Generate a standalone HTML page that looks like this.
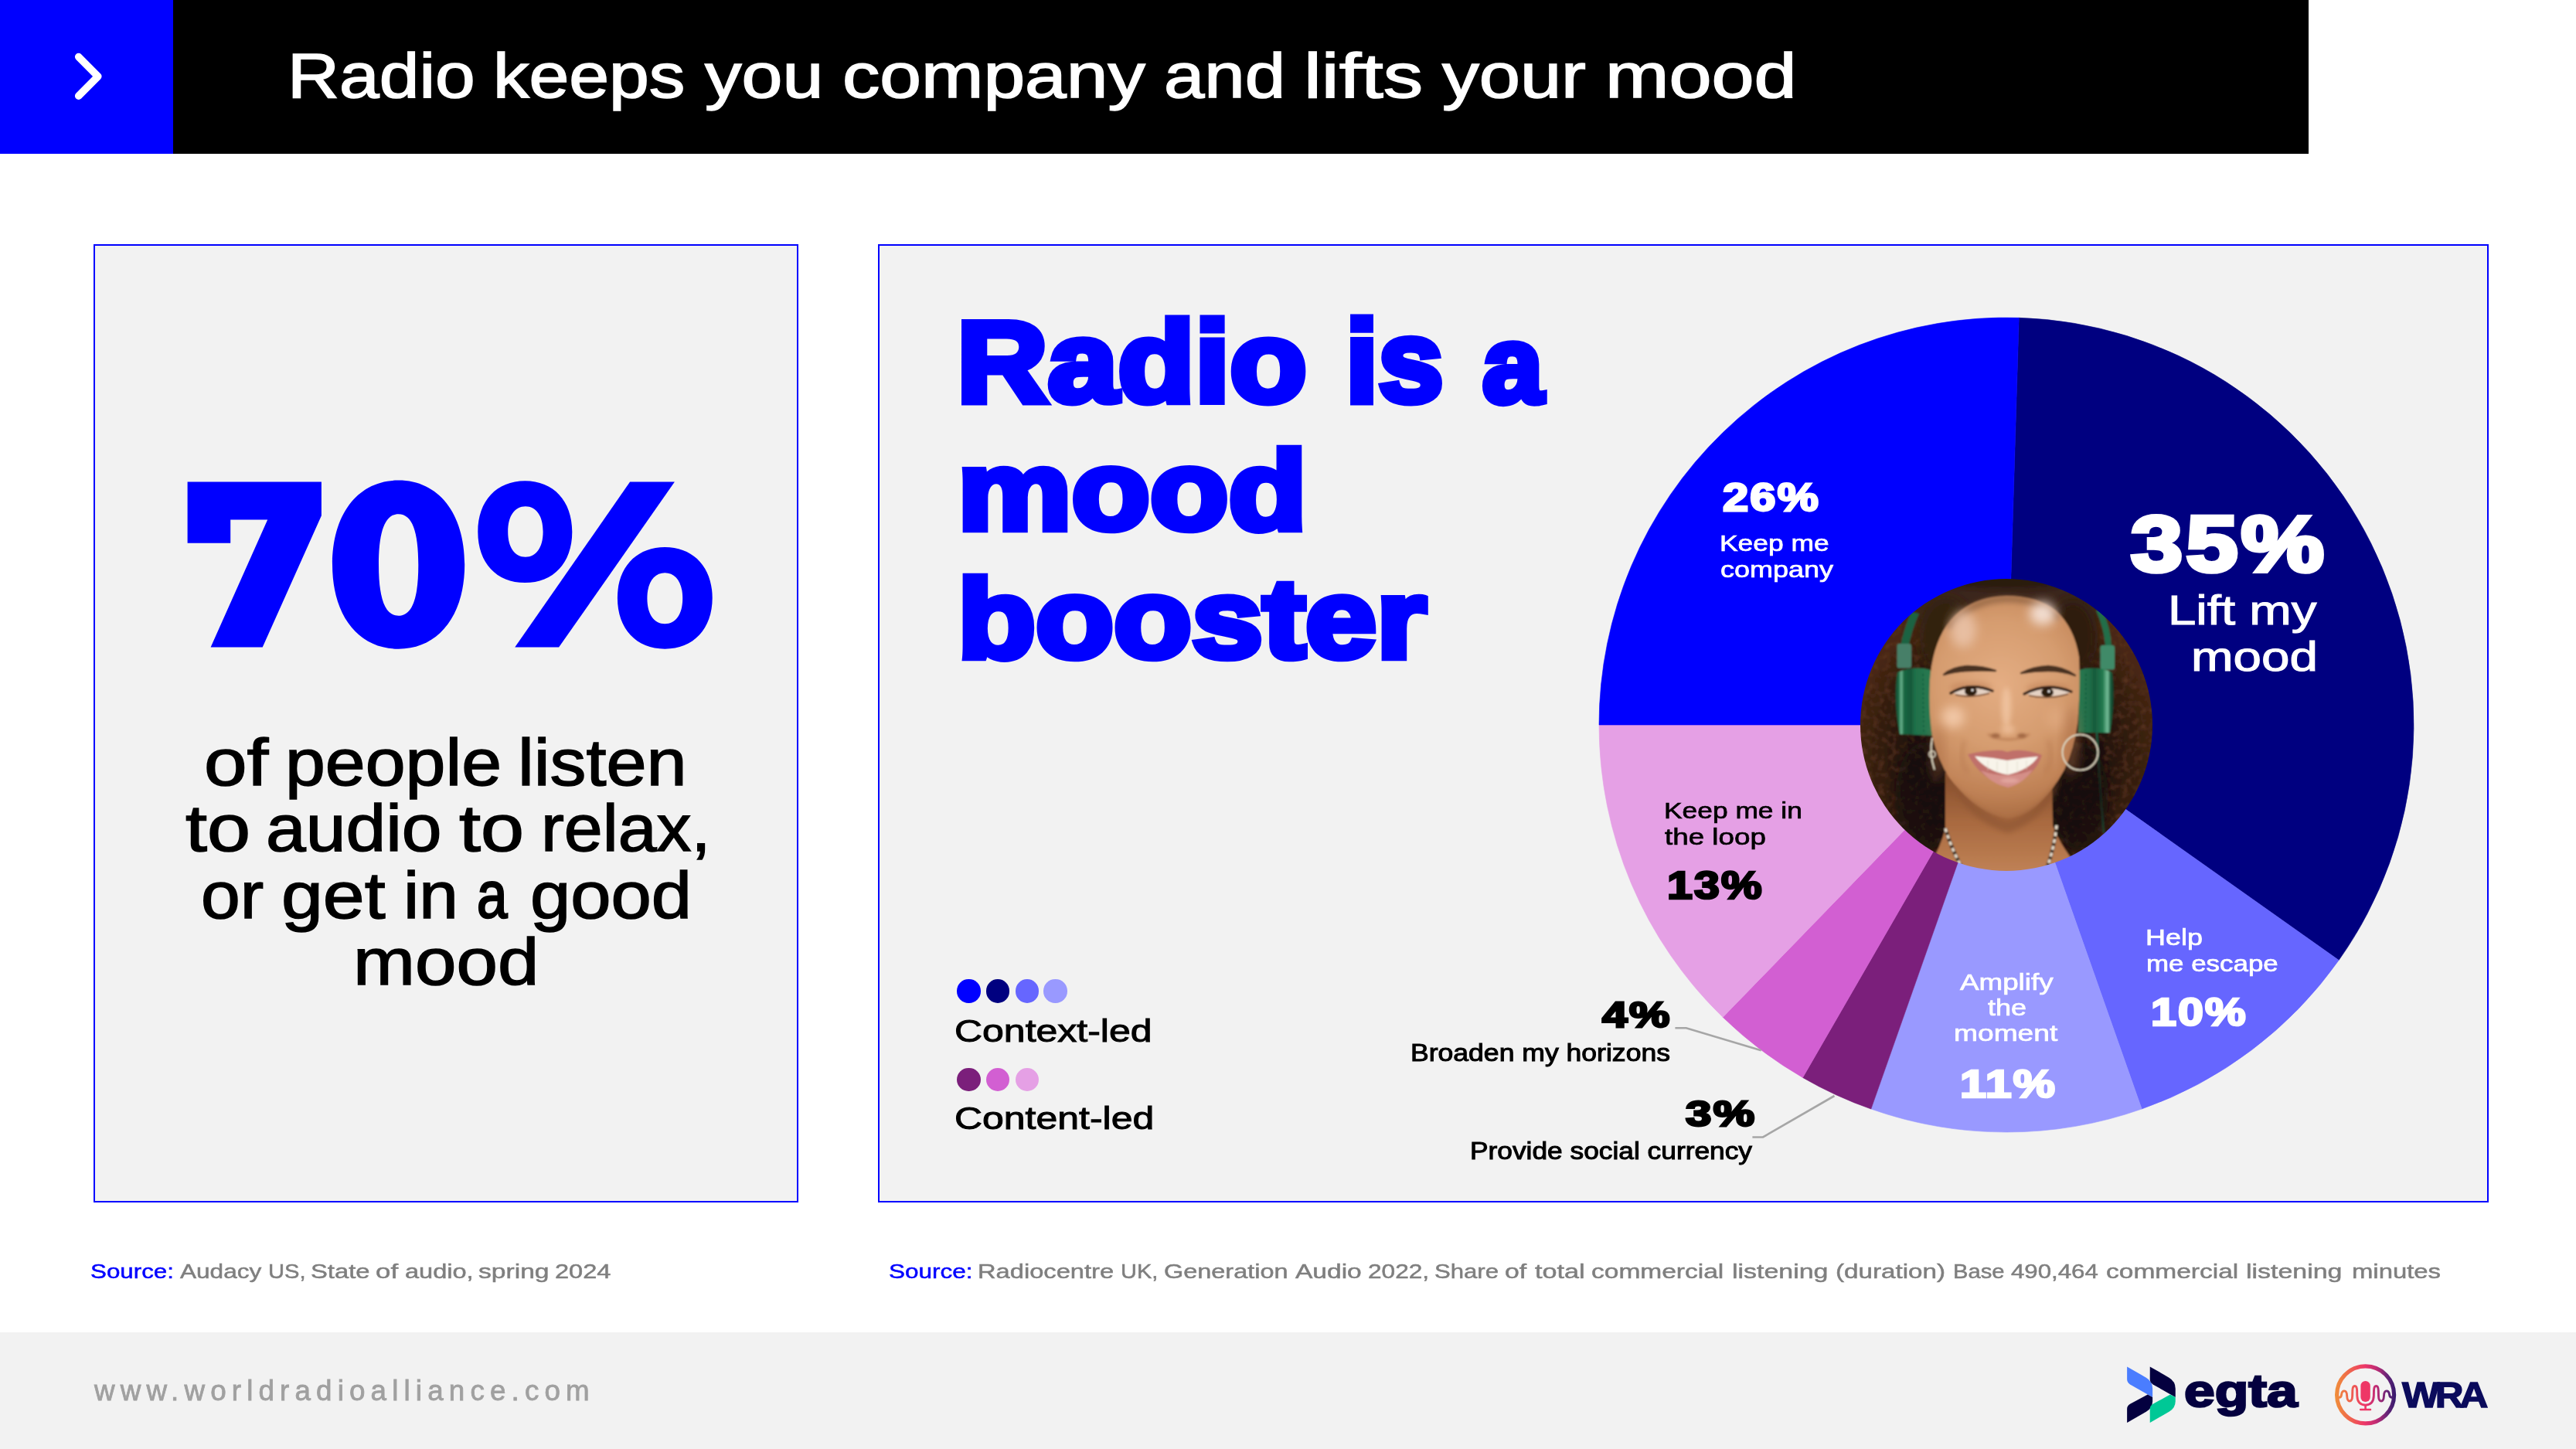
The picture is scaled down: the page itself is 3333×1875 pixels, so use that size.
<!DOCTYPE html>
<html lang="en"><head><meta charset="utf-8"><title>Radio keeps you company and lifts your mood</title>
<style>
html,body{margin:0;padding:0;background:#fff;}
body{width:3333px;height:1875px;position:relative;overflow:hidden;font-family:"Liberation Sans",sans-serif;}
.t{position:absolute;white-space:nowrap;line-height:1;transform-origin:0 0;font-family:"Liberation Sans",sans-serif;}
.abs{position:absolute;}
.panel{position:absolute;box-sizing:border-box;background:#f2f2f2;border:2px solid #0000ff;}
.dot{position:absolute;width:30.4px;height:30.4px;border-radius:50%;}
</style></head><body>
<div class="abs" style="left:0;top:0;width:2987px;height:198.5px;background:#000"></div>
<div class="abs" style="left:0;top:0;width:224px;height:198.5px;background:#0000ff"></div>
<svg class="abs" style="left:0;top:0" width="224" height="199" viewBox="0 0 224 199"><path d="M101.7 73.6 L126.8 98.8 L101.7 124.2" fill="none" stroke="#fff" stroke-width="9.6" stroke-linecap="round" stroke-linejoin="round"/></svg>
<div class="panel" style="left:121px;top:316px;width:912px;height:1240px"></div>
<div class="panel" style="left:1136px;top:316px;width:2083.5px;height:1240px"></div>
<div class="abs" style="left:0;top:1723.5px;width:3333px;height:152px;background:#f2f2f2"></div>
<svg class="abs" style="left:0;top:0" width="3333" height="1875" viewBox="0 0 3333 1875">
<path d="M2596.0,938.0 L2612.23,411.25 A527.0,527.0 0 0 1 3026.14,1242.49 Z" fill="#000080" stroke="#000080" stroke-width="0.6"/>
<path d="M2596.0,938.0 L3026.14,1242.49 A527.0,527.0 0 0 1 2771.15,1435.04 Z" fill="#6666ff" stroke="#6666ff" stroke-width="0.6"/>
<path d="M2596.0,938.0 L2771.15,1435.04 A527.0,527.0 0 0 1 2420.85,1435.04 Z" fill="#9999ff" stroke="#9999ff" stroke-width="0.6"/>
<path d="M2596.0,938.0 L2420.85,1435.04 A527.0,527.0 0 0 1 2332.50,1394.40 Z" fill="#7b1f7b" stroke="#7b1f7b" stroke-width="0.6"/>
<path d="M2596.0,938.0 L2332.50,1394.40 A527.0,527.0 0 0 1 2229.14,1316.34 Z" fill="#d25fd2" stroke="#d25fd2" stroke-width="0.6"/>
<path d="M2596.0,938.0 L2229.14,1316.34 A527.0,527.0 0 0 1 2069.00,938.00 Z" fill="#e5a0e5" stroke="#e5a0e5" stroke-width="0.6"/>
<path d="M2596.0,938.0 L2069.00,938.00 A527.0,527.0 0 0 1 2612.23,411.25 Z" fill="#0000ff" stroke="#0000ff" stroke-width="0.6"/>
<path d="M2167.4 1330.3 L2181.7 1330.3 L2278.7 1359.2" fill="none" stroke="#a6a6a6" stroke-width="2.6"/>
<path d="M2267.4 1471.5 L2281 1471.5 L2373.5 1418" fill="none" stroke="#a6a6a6" stroke-width="2.6"/>
<g fill="#0000ff">
<path d="M242.6 623.6 L415.9 623.6 L415.9 667.2 L339.7 837.6 L272.6 837.6 L346.2 672.4 L298.2 672.4 L298.2 702.8 L242.6 702.8 Z"/>
<path fill-rule="evenodd" d="M515.6 621.5 C567 621.5 601.2 664 601.2 730.6 C601.2 797 567 839.7 515.6 839.7 C464 839.7 430 797 430 730.6 C430 664 464 621.5 515.6 621.5 Z M515.6 665.2 C498 665.2 490 688 490 731 C490 774 498 796.8 515.6 796.8 C533.4 796.8 541.3 774 541.3 731 C541.3 688 533.4 665.2 515.6 665.2 Z"/>
<path d="M815.1 623.6 L872.9 623.6 L723.1 837.6 L666.2 837.6 Z"/>
<path fill-rule="evenodd" d="M679.3 622.3 C716 622.3 740.3 648 740.3 688.2 C740.3 728.5 716 754.1 679.3 754.1 C642.6 754.1 618.3 728.5 618.3 688.2 C618.3 648 642.6 622.3 679.3 622.3 Z M679.9 655.3 C666 655.3 657.2 667.5 657.2 688 C657.2 708.5 666 720.7 679.9 720.7 C693.8 720.7 702.6 708.5 702.6 688 C702.6 667.5 693.8 655.3 679.9 655.3 Z"/>
<path fill-rule="evenodd" d="M860.3 707.9 C897 707.9 921.7 733.5 921.7 773.8 C921.7 814 897 839.7 860.3 839.7 C823.6 839.7 798.9 814 798.9 773.8 C798.9 733.5 823.6 707.9 860.3 707.9 Z M860.3 741.2 C846.4 741.2 837.4 753.5 837.4 774.2 C837.4 794.9 846.4 807.2 860.3 807.2 C874.2 807.2 883.2 794.9 883.2 774.2 C883.2 753.5 874.2 741.2 860.3 741.2 Z"/>
</g>
<defs>
<clipPath id="pc"><circle cx="2596" cy="938" r="189"/></clipPath>
<radialGradient id="pbg" gradientUnits="userSpaceOnUse" cx="2596" cy="975" r="205"><stop offset="0" stop-color="#170d08"/><stop offset="0.62" stop-color="#21120b"/><stop offset="0.86" stop-color="#38200f"/><stop offset="1" stop-color="#4a2713"/></radialGradient>
<radialGradient id="pskin" gradientUnits="userSpaceOnUse" cx="2588" cy="885" r="178"><stop offset="0" stop-color="#e4ad83"/><stop offset="0.45" stop-color="#d69d70"/><stop offset="0.8" stop-color="#c08256"/><stop offset="1" stop-color="#a96c42"/></radialGradient>
<linearGradient id="pneck" gradientUnits="userSpaceOnUse" x1="0" y1="1010" x2="0" y2="1130"><stop offset="0" stop-color="#8a5230"/><stop offset="0.45" stop-color="#a96a40"/><stop offset="1" stop-color="#c08256"/></linearGradient>
<linearGradient id="pcupL" gradientUnits="userSpaceOnUse" x1="2450" y1="0" x2="2500" y2="0"><stop offset="0" stop-color="#10402b"/><stop offset="0.13" stop-color="#1a6642"/><stop offset="0.2" stop-color="#6db590"/><stop offset="0.27" stop-color="#1a6843"/><stop offset="0.45" stop-color="#16583a"/><stop offset="0.55" stop-color="#1f7049"/><stop offset="1" stop-color="#2a7a52"/></linearGradient>
<linearGradient id="pcupR" gradientUnits="userSpaceOnUse" x1="2690" y1="0" x2="2734" y2="0"><stop offset="0" stop-color="#2a7851"/><stop offset="0.35" stop-color="#1f6b46"/><stop offset="0.45" stop-color="#175a3b"/><stop offset="0.7" stop-color="#237a4f"/><stop offset="0.84" stop-color="#78bf9a"/><stop offset="0.92" stop-color="#1b6240"/><stop offset="1" stop-color="#103f2a"/></linearGradient>
<filter id="pblur" x="-5%" y="-5%" width="110%" height="110%"><feGaussianBlur stdDeviation="0.9"/></filter>
<filter id="pblur6" x="-40%" y="-40%" width="180%" height="180%"><feGaussianBlur stdDeviation="7"/></filter>
<filter id="pblur3" x="-40%" y="-40%" width="180%" height="180%"><feGaussianBlur stdDeviation="3"/></filter>
<filter id="pblur2" x="-40%" y="-40%" width="180%" height="180%"><feGaussianBlur stdDeviation="1.6"/></filter>
<filter id="pcurl" x="0" y="0" width="100%" height="100%" color-interpolation-filters="sRGB"><feTurbulence type="fractalNoise" baseFrequency="0.13" numOctaves="2" seed="7" result="n"/><feColorMatrix in="n" type="matrix" values="0 0 0 0 0.37  0 0 0 0 0.21  0 0 0 0 0.13  0 0 0 2.1 -0.98"/></filter>
</defs>
<g clip-path="url(#pc)">
<g filter="url(#pblur)">
<rect x="2400" y="740" width="400" height="400" fill="url(#pbg)"/>
<rect x="2400" y="740" width="400" height="400" filter="url(#pcurl)"/>
<!-- top hair lighter -->
<ellipse cx="2596" cy="790" rx="122" ry="50" fill="#3b271a" filter="url(#pblur6)"/>
<ellipse cx="2518" cy="822" rx="34" ry="48" fill="#33200f" filter="url(#pblur6)"/>
<ellipse cx="2682" cy="824" rx="32" ry="48" fill="#2e1c10" filter="url(#pblur6)"/>
<ellipse cx="2596" cy="752" rx="90" ry="10" fill="#2c1a10" filter="url(#pblur3)"/>
<!-- headphones bands -->
<path d="M2473 792 Q2463 814 2459 836 L2469 838 Q2474 814 2483 794 Z" fill="#1c6342"/>
<path d="M2712 790 Q2722 812 2724 836 L2732 836 Q2731 812 2720 789 Z" fill="#216e49"/>
<rect x="2454.500" y="833" width="18.500" height="31.500" rx="3" fill="#467f68"/>
<rect x="2717.500" y="835" width="18.500" height="31.500" rx="3" fill="#3f8a68"/>
<!-- cups -->
<path d="M2455 870 Q2449 905 2458 950 L2500 952 L2498 867 Q2478 861 2455 870 Z" fill="url(#pcupL)"/>
<path d="M2690 867 L2689 948 L2730 948 Q2738 905 2733 870 Q2712 861 2690 867 Z" fill="url(#pcupR)"/>
<path d="M2488 872 L2489 950" stroke="#155537" stroke-width="2" stroke-dasharray="3 3" fill="none" opacity="0.6"/>
<path d="M2699 872 L2698 946" stroke="#155537" stroke-width="2" stroke-dasharray="3 3" fill="none" opacity="0.6"/>
<!-- cable -->
<path d="M2713 948 Q2716 1010 2722 1078" fill="none" stroke="#1e5a40" stroke-width="2.600"/>
<ellipse cx="2492" cy="1030" rx="40" ry="70" fill="#140b07" opacity="0.75" filter="url(#pblur6)"/>
<ellipse cx="2690" cy="1030" rx="38" ry="70" fill="#140b07" opacity="0.75" filter="url(#pblur6)"/>
<!-- neck / chest -->
<path d="M2517 1000 L2517 1072 Q2510 1100 2488 1135 L2700 1135 Q2668 1100 2656 1068 L2655 1000 Z" fill="url(#pneck)"/>
<!-- face -->
<path d="M2596 771 Q2545 772 2518 810 Q2500 838 2497 880 Q2495 920 2500 952 Q2508 985 2522 1006 Q2540 1030 2560 1044 Q2580 1058 2598 1059 Q2618 1058 2636 1042 Q2656 1024 2671 996 Q2684 968 2688 936 Q2692 890 2690 850 Q2684 812 2660 790 Q2636 771 2596 771 Z" fill="url(#pskin)"/>
<!-- hairline shadow -->
<path d="M2520 812 Q2550 776 2596 775 Q2640 775 2664 800" fill="none" stroke="#7a5238" stroke-width="9" opacity="0.55" filter="url(#pblur3)"/>
<!-- highlights -->
<ellipse cx="2540" cy="814" rx="17" ry="24" fill="#f0cdb8" opacity="0.7" filter="url(#pblur6)"/>
<ellipse cx="2643" cy="794" rx="17" ry="15" fill="#f7e6dd" opacity="0.9" filter="url(#pblur6)"/>
<ellipse cx="2527" cy="928" rx="15" ry="14" fill="#f6cfb0" opacity="0.85" filter="url(#pblur6)"/>
<ellipse cx="2596" cy="915" rx="6" ry="26" fill="#f4caa8" opacity="0.75" filter="url(#pblur3)"/>
<ellipse cx="2598" cy="944" rx="9" ry="6" fill="#f2c4a0" opacity="0.7" filter="url(#pblur3)"/>
<ellipse cx="2662" cy="930" rx="14" ry="16" fill="#e6b088" opacity="0.5" filter="url(#pblur6)"/>
<!-- side shading -->
<ellipse cx="2680" cy="960" rx="10" ry="45" fill="#a86a42" opacity="0.5" filter="url(#pblur6)"/>
<ellipse cx="2507" cy="975" rx="8" ry="35" fill="#a86a42" opacity="0.45" filter="url(#pblur6)"/>
<!-- jaw shadow -->
<path d="M2522 1010 Q2560 1052 2598 1062 Q2636 1052 2668 1004 Q2650 1060 2598 1078 Q2545 1062 2522 1010 Z" fill="#8a5230" opacity="0.6" filter="url(#pblur3)"/>
<!-- brows -->
<path d="M2515 873 Q2526 863 2546 862 Q2566 862 2582 868 Q2564 867 2546 868 Q2528 869 2515 873 Z" fill="#4a3224" stroke="#4a3224" stroke-width="2.5" stroke-linejoin="round"/>
<path d="M2615 871 Q2630 863 2650 862 Q2670 863 2685 874 Q2668 868 2650 868 Q2632 868 2615 871 Z" fill="#4a3224" stroke="#4a3224" stroke-width="2.5" stroke-linejoin="round"/>
<!-- eye sockets -->
<ellipse cx="2550" cy="890" rx="27" ry="8" fill="#b9794f" opacity="0.45" filter="url(#pblur3)"/>
<ellipse cx="2650" cy="891" rx="28" ry="8" fill="#b9794f" opacity="0.45" filter="url(#pblur3)"/>
<!-- eyes -->
<path d="M2526 897 Q2548 885 2577 895 Q2550 903 2526 897 Z" fill="#e4d2c4"/>
<path d="M2621 898 Q2648 885 2679 896 Q2650 905 2621 898 Z" fill="#e4d2c4"/>
<ellipse cx="2550" cy="894.500" rx="8" ry="6" fill="#2c1a10"/>
<ellipse cx="2649" cy="896" rx="8" ry="6" fill="#2c1a10"/>
<path d="M2524 897 Q2548 882 2578 894" fill="none" stroke="#2f1c12" stroke-width="3.4" stroke-linecap="round"/>
<path d="M2619 898 Q2648 882 2680 895" fill="none" stroke="#2f1c12" stroke-width="3.4" stroke-linecap="round"/>
<path d="M2530 899 Q2550 904 2574 897" fill="none" stroke="#6a4630" stroke-width="1.6"/>
<path d="M2625 900 Q2650 906 2676 898" fill="none" stroke="#6a4630" stroke-width="1.6"/>
<circle cx="2552" cy="893" r="1.500" fill="#fff"/><circle cx="2651" cy="894.500" r="1.500" fill="#fff"/>
<!-- nose -->
<ellipse cx="2582" cy="952" rx="6" ry="3" fill="#8c5232" opacity="0.75" filter="url(#pblur2)"/>
<ellipse cx="2616" cy="952" rx="6" ry="3" fill="#8c5232" opacity="0.75" filter="url(#pblur2)"/>
<path d="M2572 950 Q2598 964 2626 950" fill="none" stroke="#a86a44" stroke-width="3" opacity="0.55" filter="url(#pblur2)"/>
<!-- smile folds -->
<path d="M2542 958 Q2533 982 2546 1000" fill="none" stroke="#ad6e46" stroke-width="3" opacity="0.6" filter="url(#pblur3)"/>
<path d="M2650 958 Q2658 982 2646 1000" fill="none" stroke="#ad6e46" stroke-width="3" opacity="0.6" filter="url(#pblur3)"/>
<!-- mouth -->
<path d="M2546 976 Q2562 972 2580 971 Q2590 970 2597 973 Q2606 970 2616 971 Q2630 972 2642 977 Q2634 1004 2598 1019 Q2562 1008 2546 976 Z" fill="#c0706a"/>
<path d="M2555 978.500 Q2575 980 2597 984 Q2620 980 2637 979 Q2626 996 2598 1002.500 Q2570 998 2555 978.500 Z" fill="#f8f4ea"/>
<path d="M2572 984 L2572 997 M2584 985 L2584 1000 M2597 985 L2597 1002 M2610 985 L2610 1000 M2622 984 L2622 996" stroke="#d9d2c4" stroke-width="1" opacity="0.7"/>
<path d="M2563 997 Q2598 1010 2630 996 Q2618 1014 2598 1019 Q2576 1014 2563 997 Z" fill="#d48f88"/>
<ellipse cx="2600" cy="1010" rx="12" ry="3" fill="#e8b0a8" opacity="0.7" filter="url(#pblur2)"/>
<!-- earrings -->
<circle cx="2691.500" cy="973.500" r="23" fill="none" stroke="#dcd5c0" stroke-width="2"/>
<path d="M2500 955 Q2496 975 2503 996" fill="none" stroke="#dcd5c0" stroke-width="2"/>
<circle cx="2500" cy="976" r="4" fill="none" stroke="#dcd5c0" stroke-width="1.600"/>
<!-- necklace -->
<path d="M2517 1072 Q2524 1096 2537 1120" fill="none" stroke="#3b2a1c" stroke-width="4.500"/>
<path d="M2517 1072 Q2524 1096 2537 1120" fill="none" stroke="#e6dccb" stroke-width="3.500" stroke-dasharray="5 4"/>
<path d="M2661 1068 Q2658 1096 2649 1122" fill="none" stroke="#3b2a1c" stroke-width="4.500"/>
<path d="M2661 1068 Q2658 1096 2649 1122" fill="none" stroke="#e6dccb" stroke-width="3.500" stroke-dasharray="5 4"/>
</g>
</g>

<defs>
<linearGradient id="wg" gradientUnits="userSpaceOnUse" x1="3021" y1="0" x2="3100" y2="0"><stop offset="0" stop-color="#f0903a"/><stop offset="0.22" stop-color="#ef6a4a"/><stop offset="0.48" stop-color="#ee3868"/><stop offset="0.68" stop-color="#c02c74"/><stop offset="0.85" stop-color="#6a2478"/><stop offset="1" stop-color="#33186c"/></linearGradient>
</defs>
<g transform="translate(2740,1755) scale(0.09705)">
<path d="M125,138 L380,285 Q465,335 465,430 L465,545 L165,375 Q125,350 125,310 Z" fill="#4a7dff"/>
<path d="M125,885 L125,700 Q125,660 165,637 L400,510 L465,545 L465,600 Q465,690 380,740 Z" fill="#04003f"/>
<path d="M430,138 L685,285 Q770,335 770,430 L770,545 L470,375 Q430,350 430,310 Z" fill="#04003f"/>
<path d="M430,885 L430,700 Q430,660 470,637 L700,510 L770,545 L770,600 Q770,690 685,740 Z" fill="#00c896"/>
</g>
<circle cx="3060.600" cy="1804.900" r="37" fill="none" stroke="url(#wg)" stroke-width="5.200"/>
<path d="M3026.65,1808.38 Q3029.22,1808.38 3029.64,1804.11 Q3030.07,1799.84 3033.23,1799.84 Q3036.48,1799.84 3036.65,1806.24 Q3036.99,1813.07 3040.06,1813.07 Q3043.48,1813.07 3043.65,1806.24 L3043.82,1799.41 Q3043.99,1793.43 3046.72,1793.43 Q3049.46,1793.43 3049.63,1799.41 L3049.80,1806.24 Q3050.14,1817.77 3060.56,1818.20 Q3070.98,1817.77 3071.32,1806.24 L3071.49,1799.41 Q3071.66,1793.43 3074.39,1793.43 Q3077.13,1793.43 3077.30,1799.41 L3077.47,1806.24 Q3077.64,1813.07 3081.06,1813.07 Q3084.13,1813.07 3084.47,1806.24 Q3084.64,1799.84 3087.89,1799.84 Q3091.05,1799.84 3091.48,1804.11 Q3091.90,1808.38 3094.98,1808.38" fill="none" stroke="url(#wg)" stroke-width="2.9" stroke-linecap="round" stroke-linejoin="round"/>
<g fill="#ee3766" stroke="none">
<rect x="3054.400" y="1787" width="12.400" height="27" rx="6.200"/>
<rect x="3059.300" y="1817" width="2.600" height="7.500"/>
<rect x="3053" y="1822.700" width="15.200" height="2.600" rx="1"/>
</g>

</svg>
<div class="dot" style="left:1238.2px;top:1267.3px;background:#0000ff"></div>
<div class="dot" style="left:1275.6px;top:1267.3px;background:#000080"></div>
<div class="dot" style="left:1313.5px;top:1267.3px;background:#6666ff"></div>
<div class="dot" style="left:1350.4px;top:1267.3px;background:#9999ff"></div>
<div class="dot" style="left:1238.2px;top:1381.9px;background:#7b1f7b"></div>
<div class="dot" style="left:1275.6px;top:1381.9px;background:#d25fd2"></div>
<div class="dot" style="left:1313.5px;top:1381.9px;background:#e5a0e5"></div>
<div class="t" style="left:372.21px;top:57.56px;font-size:81px;font-weight:400;color:#fff;-webkit-text-stroke:1.6px currentColor;transform:scaleX(1.1469);">Radio</div>
<div class="t" style="left:638.34px;top:57.56px;font-size:81px;font-weight:400;color:#fff;-webkit-text-stroke:1.6px currentColor;transform:scaleX(1.1493);">keeps</div>
<div class="t" style="left:911.67px;top:57.56px;font-size:81px;font-weight:400;color:#fff;-webkit-text-stroke:1.6px currentColor;transform:scaleX(1.1741);">you</div>
<div class="t" style="left:1089.92px;top:57.56px;font-size:81px;font-weight:400;color:#fff;-webkit-text-stroke:1.6px currentColor;transform:scaleX(1.1920);">company</div>
<div class="t" style="left:1505.59px;top:57.56px;font-size:81px;font-weight:400;color:#fff;-webkit-text-stroke:1.6px currentColor;transform:scaleX(1.1626);">and</div>
<div class="t" style="left:1687.48px;top:57.56px;font-size:81px;font-weight:400;color:#fff;-webkit-text-stroke:1.6px currentColor;transform:scaleX(1.2680);">lifts</div>
<div class="t" style="left:1866.38px;top:57.56px;font-size:81px;font-weight:400;color:#fff;-webkit-text-stroke:1.6px currentColor;transform:scaleX(1.1797);">your</div>
<div class="t" style="left:2077.10px;top:57.56px;font-size:81px;font-weight:400;color:#fff;-webkit-text-stroke:1.6px currentColor;transform:scaleX(1.2222);">mood</div>
<div class="t" style="left:227.44px;top:577.63px;font-size:313px;font-weight:700;color:transparent;transform:scale(1.1229,0.9752);">70%</div>
<div class="t" style="left:264.25px;top:944.75px;font-size:84.5px;font-weight:400;color:#000;-webkit-text-stroke:1.5px currentColor;transform:scaleX(1.1825);">of</div>
<div class="t" style="left:369.03px;top:944.75px;font-size:84.5px;font-weight:400;color:#000;-webkit-text-stroke:1.5px currentColor;transform:scaleX(1.1038);">people</div>
<div class="t" style="left:670.16px;top:944.75px;font-size:84.5px;font-weight:400;color:#000;-webkit-text-stroke:1.5px currentColor;transform:scaleX(1.1083);">listen</div>
<div class="t" style="left:239.70px;top:1030.35px;font-size:84.5px;font-weight:400;color:#000;-webkit-text-stroke:1.5px currentColor;transform:scaleX(1.1926);">to</div>
<div class="t" style="left:343.77px;top:1030.35px;font-size:84.5px;font-weight:400;color:#000;-webkit-text-stroke:1.5px currentColor;transform:scaleX(1.1006);">audio</div>
<div class="t" style="left:594.40px;top:1030.35px;font-size:84.5px;font-weight:400;color:#000;-webkit-text-stroke:1.5px currentColor;transform:scaleX(1.1911);">to</div>
<div class="t" style="left:699.96px;top:1030.35px;font-size:84.5px;font-weight:400;color:#000;-webkit-text-stroke:1.5px currentColor;transform:scaleX(1.0615);">relax,</div>
<div class="t" style="left:259.63px;top:1116.65px;font-size:84.5px;font-weight:400;color:#000;-webkit-text-stroke:1.5px currentColor;transform:scaleX(1.0787);">or</div>
<div class="t" style="left:364.05px;top:1116.65px;font-size:84.5px;font-weight:400;color:#000;-webkit-text-stroke:1.5px currentColor;transform:scaleX(1.1461);">get</div>
<div class="t" style="left:522.48px;top:1116.65px;font-size:84.5px;font-weight:400;color:#000;-webkit-text-stroke:1.5px currentColor;transform:scaleX(1.0773);">in</div>
<div class="t" style="left:616.71px;top:1116.10px;font-size:84.5px;font-weight:400;color:#000;-webkit-text-stroke:2.6px currentColor;transform:scaleX(0.8391);">a</div>
<div class="t" style="left:685.64px;top:1116.65px;font-size:84.5px;font-weight:400;color:#000;-webkit-text-stroke:1.5px currentColor;transform:scaleX(1.1126);">good</div>
<div class="t" style="left:456.90px;top:1203.05px;font-size:84.5px;font-weight:400;color:#000;-webkit-text-stroke:1.5px currentColor;transform:scaleX(1.1371);">mood</div>
<div class="t" style="left:1238.22px;top:395.45px;font-size:150px;font-weight:700;color:#0000ff;-webkit-text-stroke:9px currentColor;transform:scale(1.0865,0.9853);">Radio</div>
<div class="t" style="left:1741.23px;top:393.22px;font-size:150px;font-weight:700;color:#0000ff;-webkit-text-stroke:9px currentColor;transform:scale(1.0119,1.0021);">is</div>
<div class="t" style="left:1918.14px;top:401.59px;font-size:150px;font-weight:700;color:#0000ff;-webkit-text-stroke:9px currentColor;transform:scale(0.9423,0.9392);">a</div>
<div class="t" style="left:1238.67px;top:563.37px;font-size:150px;font-weight:700;color:#0000ff;-webkit-text-stroke:9px currentColor;transform:scale(1.1068,0.9618);">mood</div>
<div class="t" style="left:1238.69px;top:728.74px;font-size:150px;font-weight:700;color:#0000ff;-webkit-text-stroke:9px currentColor;transform:scale(1.1024,0.9644);">booster</div>
<div class="t" style="left:2228.56px;top:618.80px;font-size:55px;font-weight:700;color:#fff;-webkit-text-stroke:3px currentColor;letter-spacing:2px;transform:scale(1.0848,0.9167);">26%</div>
<div class="t" style="left:2224.70px;top:687.52px;font-size:29.5px;font-weight:400;color:#fff;-webkit-text-stroke:0.7px currentColor;transform:scaleX(1.1991);">Keep me</div>
<div class="t" style="left:2225.58px;top:721.92px;font-size:29.5px;font-weight:400;color:#fff;-webkit-text-stroke:0.7px currentColor;transform:scaleX(1.2202);">company</div>
<div class="t" style="left:2757.32px;top:653.42px;font-size:110px;font-weight:700;color:#fff;-webkit-text-stroke:6px currentColor;letter-spacing:4px;transform:scale(1.0952,0.9286);">35%</div>
<div class="t" style="left:2805.42px;top:762.94px;font-size:53.5px;font-weight:400;color:#fff;-webkit-text-stroke:1.1px currentColor;transform:scaleX(1.2214);">Lift my</div>
<div class="t" style="left:2835.12px;top:823.24px;font-size:53.5px;font-weight:400;color:#fff;-webkit-text-stroke:1.1px currentColor;transform:scaleX(1.2250);">mood</div>
<div class="t" style="left:2152.50px;top:1034.42px;font-size:29.5px;font-weight:400;color:#000;-webkit-text-stroke:0.7px currentColor;transform:scaleX(1.1986);">Keep me in</div>
<div class="t" style="left:2154.20px;top:1068.12px;font-size:29.5px;font-weight:400;color:#000;-webkit-text-stroke:0.7px currentColor;transform:scaleX(1.2462);">the loop</div>
<div class="t" style="left:2156.65px;top:1121.79px;font-size:55px;font-weight:700;color:#000;-webkit-text-stroke:3px currentColor;letter-spacing:2px;transform:scale(1.0753,0.9018);">13%</div>
<div class="t" style="left:2776.27px;top:1198.12px;font-size:29.5px;font-weight:400;color:#fff;-webkit-text-stroke:0.7px currentColor;transform:scaleX(1.2173);">Help</div>
<div class="t" style="left:2777.43px;top:1231.82px;font-size:29.5px;font-weight:400;color:#fff;-webkit-text-stroke:0.7px currentColor;transform:scaleX(1.1831);">me escape</div>
<div class="t" style="left:2782.65px;top:1284.51px;font-size:55px;font-weight:700;color:#fff;-webkit-text-stroke:3px currentColor;letter-spacing:2px;transform:scale(1.0753,0.9143);">10%</div>
<div class="t" style="left:2536.12px;top:1255.62px;font-size:29.5px;font-weight:400;color:#fff;-webkit-text-stroke:0.7px currentColor;transform:scaleX(1.2462);">Amplify</div>
<div class="t" style="left:2571.80px;top:1289.32px;font-size:29.5px;font-weight:400;color:#fff;-webkit-text-stroke:0.7px currentColor;transform:scaleX(1.2225);">the</div>
<div class="t" style="left:2528.21px;top:1322.22px;font-size:29.5px;font-weight:400;color:#fff;-webkit-text-stroke:0.7px currentColor;transform:scaleX(1.2599);">moment</div>
<div class="t" style="left:2535.69px;top:1378.26px;font-size:55px;font-weight:700;color:#fff;-webkit-text-stroke:3px currentColor;letter-spacing:2px;transform:scale(1.1073,0.9030);">11%</div>
<div class="t" style="left:2072.68px;top:1289.52px;font-size:50px;font-weight:700;color:#000;-webkit-text-stroke:3px currentColor;letter-spacing:2px;transform:scale(1.1761,0.9176);">4%</div>
<div class="t" style="left:1825.11px;top:1347.21px;font-size:31px;font-weight:400;color:#000;-webkit-text-stroke:1.0px currentColor;transform:scaleX(1.1469);">Broaden my horizons</div>
<div class="t" style="left:2180.80px;top:1417.63px;font-size:50px;font-weight:700;color:#000;-webkit-text-stroke:3px currentColor;letter-spacing:2px;transform:scale(1.2000,0.9221);">3%</div>
<div class="t" style="left:1902.32px;top:1473.71px;font-size:31px;font-weight:400;color:#000;-webkit-text-stroke:1.0px currentColor;transform:scaleX(1.1389);">Provide social currency</div>
<div class="t" style="left:1234.99px;top:1312.73px;font-size:41.5px;font-weight:400;color:#000;-webkit-text-stroke:1.0px currentColor;transform:scaleX(1.2038);">Context-led</div>
<div class="t" style="left:1235.00px;top:1426.33px;font-size:41.5px;font-weight:400;color:#000;-webkit-text-stroke:1.0px currentColor;transform:scaleX(1.2033);">Content-led</div>
<div class="t" style="left:117.32px;top:1632.16px;font-size:26.5px;font-weight:400;color:#0000ff;-webkit-text-stroke:0.5px currentColor;transform:scaleX(1.1819);">Source:</div>
<div class="t" style="left:232.60px;top:1632.16px;font-size:26.5px;font-weight:400;color:#7f7f7f;-webkit-text-stroke:0.5px currentColor;transform:scaleX(1.1910);">Audacy</div>
<div class="t" style="left:346.67px;top:1632.16px;font-size:26.5px;font-weight:400;color:#7f7f7f;-webkit-text-stroke:0.5px currentColor;transform:scaleX(1.1006);">US,</div>
<div class="t" style="left:401.76px;top:1632.16px;font-size:26.5px;font-weight:400;color:#7f7f7f;-webkit-text-stroke:0.5px currentColor;transform:scaleX(1.2367);">State</div>
<div class="t" style="left:486.21px;top:1632.16px;font-size:26.5px;font-weight:400;color:#7f7f7f;-webkit-text-stroke:0.5px currentColor;transform:scaleX(1.3149);">of</div>
<div class="t" style="left:523.58px;top:1632.16px;font-size:26.5px;font-weight:400;color:#7f7f7f;-webkit-text-stroke:0.5px currentColor;transform:scaleX(1.2274);">audio,</div>
<div class="t" style="left:618.97px;top:1632.16px;font-size:26.5px;font-weight:400;color:#7f7f7f;-webkit-text-stroke:0.5px currentColor;transform:scaleX(1.2683);">spring</div>
<div class="t" style="left:717.77px;top:1632.16px;font-size:26.5px;font-weight:400;color:#7f7f7f;-webkit-text-stroke:0.5px currentColor;transform:scaleX(1.2296);">2024</div>
<div class="t" style="left:1150.21px;top:1632.16px;font-size:26.5px;font-weight:400;color:#0000ff;-webkit-text-stroke:0.5px currentColor;transform:scaleX(1.1887);">Source:</div>
<div class="t" style="left:1264.74px;top:1632.16px;font-size:26.5px;font-weight:400;color:#7f7f7f;-webkit-text-stroke:0.5px currentColor;transform:scaleX(1.2321);">Radiocentre</div>
<div class="t" style="left:1450.09px;top:1632.16px;font-size:26.5px;font-weight:400;color:#7f7f7f;-webkit-text-stroke:0.5px currentColor;transform:scaleX(1.0932);">UK,</div>
<div class="t" style="left:1506.18px;top:1632.16px;font-size:26.5px;font-weight:400;color:#7f7f7f;-webkit-text-stroke:0.5px currentColor;transform:scaleX(1.2241);">Generation</div>
<div class="t" style="left:1675.62px;top:1632.16px;font-size:26.5px;font-weight:400;color:#7f7f7f;-webkit-text-stroke:0.5px currentColor;transform:scaleX(1.2654);">Audio</div>
<div class="t" style="left:1769.71px;top:1632.16px;font-size:26.5px;font-weight:400;color:#7f7f7f;-webkit-text-stroke:0.5px currentColor;transform:scaleX(1.1937);">2022,</div>
<div class="t" style="left:1856.13px;top:1632.16px;font-size:26.5px;font-weight:400;color:#7f7f7f;-webkit-text-stroke:0.5px currentColor;transform:scaleX(1.1738);">Share</div>
<div class="t" style="left:1947.34px;top:1632.16px;font-size:26.5px;font-weight:400;color:#7f7f7f;-webkit-text-stroke:0.5px currentColor;transform:scaleX(1.2736);">of</div>
<div class="t" style="left:1985.50px;top:1632.16px;font-size:26.5px;font-weight:400;color:#7f7f7f;-webkit-text-stroke:0.5px currentColor;transform:scaleX(1.2887);">total</div>
<div class="t" style="left:2059.35px;top:1632.16px;font-size:26.5px;font-weight:400;color:#7f7f7f;-webkit-text-stroke:0.5px currentColor;transform:scaleX(1.2645);">commercial</div>
<div class="t" style="left:2241.28px;top:1632.16px;font-size:26.5px;font-weight:400;color:#7f7f7f;-webkit-text-stroke:0.5px currentColor;transform:scaleX(1.2796);">listening</div>
<div class="t" style="left:2375.24px;top:1632.16px;font-size:26.5px;font-weight:400;color:#7f7f7f;-webkit-text-stroke:0.5px currentColor;transform:scaleX(1.2515);">(duration)</div>
<div class="t" style="left:2526.80px;top:1632.16px;font-size:26.5px;font-weight:400;color:#7f7f7f;-webkit-text-stroke:0.5px currentColor;transform:scaleX(1.1009);">Base</div>
<div class="t" style="left:2602.41px;top:1632.16px;font-size:26.5px;font-weight:400;color:#7f7f7f;-webkit-text-stroke:0.5px currentColor;transform:scaleX(1.1779);">490,464</div>
<div class="t" style="left:2724.55px;top:1632.16px;font-size:26.5px;font-weight:400;color:#7f7f7f;-webkit-text-stroke:0.5px currentColor;transform:scaleX(1.2645);">commercial</div>
<div class="t" style="left:2906.48px;top:1632.16px;font-size:26.5px;font-weight:400;color:#7f7f7f;-webkit-text-stroke:0.5px currentColor;transform:scaleX(1.2796);">listening</div>
<div class="t" style="left:3042.94px;top:1632.16px;font-size:26.5px;font-weight:400;color:#7f7f7f;-webkit-text-stroke:0.5px currentColor;transform:scaleX(1.2397);">minutes</div>
<div class="t" style="left:122.21px;top:1781.58px;font-size:36px;font-weight:400;color:#a0a0a0;-webkit-text-stroke:0.8px currentColor;letter-spacing:7px;transform:scaleX(1.0215);">www.worldradioalliance.com</div>
<div class="t" style="left:2825.71px;top:1770.45px;font-size:60px;font-weight:700;color:#04003f;-webkit-text-stroke:2.5px currentColor;transform:scaleX(1.1895);">egta</div>
<div class="t" style="left:3107.86px;top:1782.79px;font-size:48px;font-weight:700;color:#0b0b5c;-webkit-text-stroke:1.5px currentColor;letter-spacing:-5px;transform:scale(1.0635,0.9536);">WRA</div>
</body></html>
